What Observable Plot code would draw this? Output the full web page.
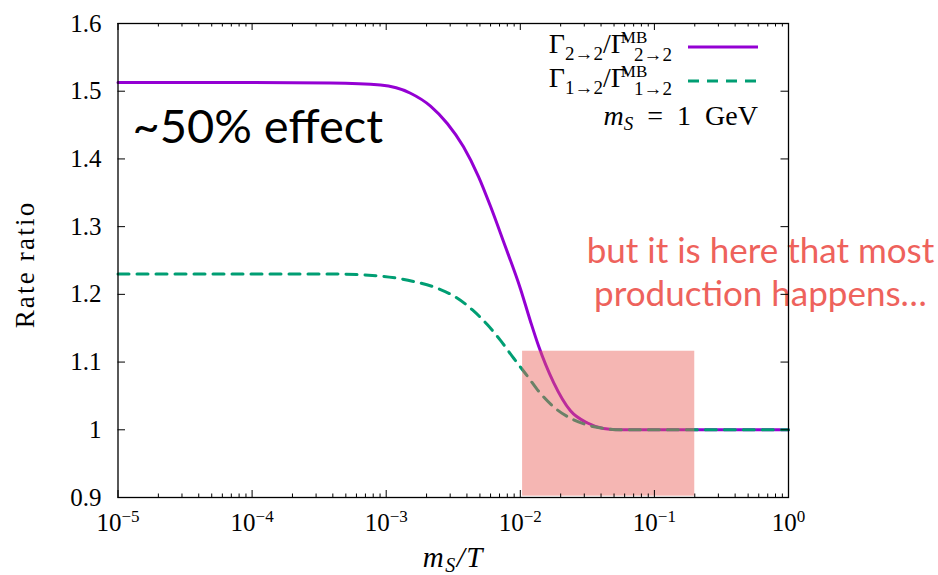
<!DOCTYPE html>
<html><head><meta charset="utf-8">
<script src="https://cdn.jsdelivr.net/npm/d3@7"></script>
<script src="https://cdn.jsdelivr.net/npm/@observablehq/plot@0.6"></script>
<style>
body{margin:0;background:#fff;}
#chart{position:relative;width:938px;height:575px;}
</style></head><body><div id="chart"></div>
<script>
// ---- data ----
const xRate22 = [1e-5, 1e-4, 3.843e-4, 9.07e-4, 1.518e-3, 2.14e-3, 2.864e-3, 3.77e-3, 4.878e-3, 5.995e-3, 7.492e-3, 1.0035e-2, 1.1915e-2, 1.367e-2, 1.769e-2, 2.366e-2, 3.17e-2, 4.173e-2, 5.587e-2, 0.1, 1];
const rate22   = [1.513, 1.513, 1.512, 1.509, 1.497, 1.478, 1.452, 1.418, 1.374, 1.330, 1.278, 1.208, 1.160, 1.124, 1.070, 1.028, 1.010, 1.002, 1.000, 1.000, 1.000];
const xRate12 = [1e-5, 1e-4, 3.843e-4, 9.07e-4, 1.598e-3, 2.413e-3, 3.287e-3, 4.401e-3, 5.692e-3, 7.116e-3, 8.898e-3, 1.1317e-2, 1.3434e-2, 1.769e-2, 2.366e-2, 3.17e-2, 4.173e-2, 5.587e-2, 0.1, 1];
const rate12   = [1.230, 1.230, 1.230, 1.227, 1.219, 1.209, 1.196, 1.177, 1.155, 1.132, 1.106, 1.079, 1.059, 1.034, 1.017, 1.007, 1.002, 1.000, 1.000, 1.000];
const shadeX = [0.0104, 0.2];
const shadeY = [0.902, 1.116];
const xMajor = [1e-5, 1e-4, 1e-3, 1e-2, 1e-1, 1];
const xMinor = xMajor.slice(0, -1).flatMap(d => [2,3,4,5,6,7,8,9].map(m => m * d));
const yTicks = [0.9, 1, 1.1, 1.2, 1.3, 1.4, 1.5, 1.6];
const notes = [
  {x: 1.28e-5, y: 1.423, text: "~50% effect"},
  {x: 0.618, y: 1.1835, text: "but it is here that most\nproduction happens…"}
];
const yLabel = "Rate ratio";
const xLabel = "mS/T";
const legendSubs = ["2\u21922", "1\u21922"];

const series22 = xRate22.map((x, i) => ({x, y: rate22[i]}));
const series12 = xRate12.map((x, i) => ({x, y: rate12[i]}));
const shade = [{x1: shadeX[0], x2: shadeX[1], y1: shadeY[0], y2: shadeY[1]}];

const W = 938, H = 575, mL = 117.5, mR = 150, mT = 23, mB = 78;
const innerW = W - mL - mR, innerH = H - mT - mB;
const serif = "'Liberation Serif', 'DejaVu Serif', serif";
const sans = "Lato, 'Open Sans', sans-serif";
const purple = "#9400D3", green = "#009E73";

const plot = Plot.plot({
  width: W, height: H,
  marginLeft: mL, marginRight: mR, marginTop: mT, marginBottom: mB,
  style: {fontFamily: serif, fontSize: "25px", background: "white", overflow: "visible"},
  x: {type: "log", domain: [1e-5, 1]},
  y: {domain: [0.9, 1.6]},
  marks: [
    Plot.line(series22, {x: "x", y: "y", stroke: purple, strokeWidth: 3, curve: "monotone-x"}),
    Plot.line(series12, {x: "x", y: "y", stroke: green, strokeWidth: 3, strokeDasharray: "11,8", curve: "monotone-x"}),
    Plot.rect(shade, {x1: "x1", x2: "x2", y1: "y1", y2: "y2", fill: "#EA5F59", fillOpacity: 0.46}),
    Plot.text([notes[0]], {x: "x", y: "y", text: "text", textAnchor: "start", lineAnchor: "bottom", fontSize: 47, fontFamily: sans, fill: "black"}),
    Plot.text([notes[1]], {x: "x", y: "y", text: "text", textAnchor: "middle", lineAnchor: "bottom", lineHeight: 1.21, fontSize: 35, fontFamily: sans, fill: "#EE625C"}),
    Plot.frame({stroke: "black", strokeWidth: 1.3}),
    Plot.tickX(xMajor, {x: d => d, insetTop: innerH - 7, stroke: "black"}),
    Plot.tickX(xMajor, {x: d => d, insetBottom: innerH - 7, stroke: "black"}),
    Plot.tickX(xMinor, {x: d => d, insetTop: innerH - 3.5, stroke: "black"}),
    Plot.tickX(xMinor, {x: d => d, insetBottom: innerH - 3.5, stroke: "black"}),
    Plot.tickY(yTicks, {y: d => d, insetRight: innerW - 7.5, stroke: "black"}),
    Plot.tickY(yTicks, {y: d => d, insetLeft: innerW - 7.5, stroke: "black"}),
    Plot.axisX({ticks: xMajor, tickSize: 0, tickPadding: 16, label: null, fontSize: 25,
      tickFormat: d => String(Math.round(Math.log10(d)))}),
    Plot.axisY({ticks: yTicks, tickSize: 0, tickPadding: 16.5, label: null, fontSize: 25,
      tickFormat: d => String(d)}),
    Plot.text([yLabel], {frameAnchor: "left", dx: -84.5, dy: 4, rotate: -90, lineAnchor: "bottom", textAnchor: "middle", fontSize: 27, fill: "black"}),
    Plot.text([xLabel], {frameAnchor: "bottom", dy: 69, lineAnchor: "bottom", textAnchor: "middle", fontSize: 29, fill: "black"})
  ]
});
document.getElementById("chart").appendChild(plot);

const svg = d3.select(plot);
// superscript exponents on the x tick labels
svg.selectAll('[aria-label="x-axis tick label"] text').each(function() {
  const e = this.textContent;
  const t = d3.select(this);
  t.text("");
  t.append("tspan").text("10");
  t.append("tspan").attr("dy", -9).attr("font-size", 17).text(e.replace("-", "\u2212"));
});
svg.selectAll("text").filter(function() { return this.textContent === yLabel; })
  .attr("letter-spacing", 2.2);
svg.selectAll("text").filter(function() { return this.textContent === xLabel; }).each(function() {
  const t = d3.select(this);
  t.text("");
  t.attr("letter-spacing", 1.5);
  t.append("tspan").attr("font-style", "italic").text("m");
  t.append("tspan").attr("font-style", "italic").attr("font-size", 20).attr("dy", 5).text("S");
  t.append("tspan").attr("font-style", "italic").attr("dy", -5).text("/T");
});

// legend (each entry is one text element: Γ_sub / Γ^MB_sub)
const L = svg.append("g").attr("font-family", serif).attr("font-size", 28).attr("fill", "black");
function legendRow(sub, yb, color, dash) {
  const g = L.append("g");
  const t = g.append("text").attr("x", 0).attr("y", yb);
  t.append("tspan").text("\u0393");
  t.append("tspan").attr("font-size", 19).attr("dy", 7).text(sub);
  t.append("tspan").attr("dy", -7).text("/\u0393");
  const low = t.append("tspan").attr("font-size", 19).attr("dy", 8).attr("dx", 7).text(sub);
  const n = ("\u0393" + sub + "/\u0393").length;
  let pos = 0;
  try { pos = t.node().getStartPositionOfChar(n).x; } catch (e) { pos = 80; }
  t.append("tspan").attr("x", pos).attr("font-size", 17).attr("dy", -18).text("MB");
  const end = pos + low.node().getComputedTextLength();
  g.attr("transform", `translate(${672 - end},0)`);
  L.append("line").attr("x1", 688).attr("x2", 758).attr("y1", yb - 6).attr("y2", yb - 6)
    .attr("stroke", color).attr("stroke-width", 3).attr("stroke-dasharray", dash);
}
legendRow(legendSubs[0], 53, purple, null);
legendRow(legendSubs[1], 87, green, "11,8");
const r3 = L.append("text").attr("x", 758).attr("y", 125).attr("text-anchor", "end");
r3.append("tspan").attr("font-style", "italic").text("m");
r3.append("tspan").attr("font-style", "italic").attr("font-size", 19).attr("dy", 5).text("S");
r3.append("tspan").attr("dy", -5).text("\u2002=\u20021\u2002GeV");
</script>
</body></html>
